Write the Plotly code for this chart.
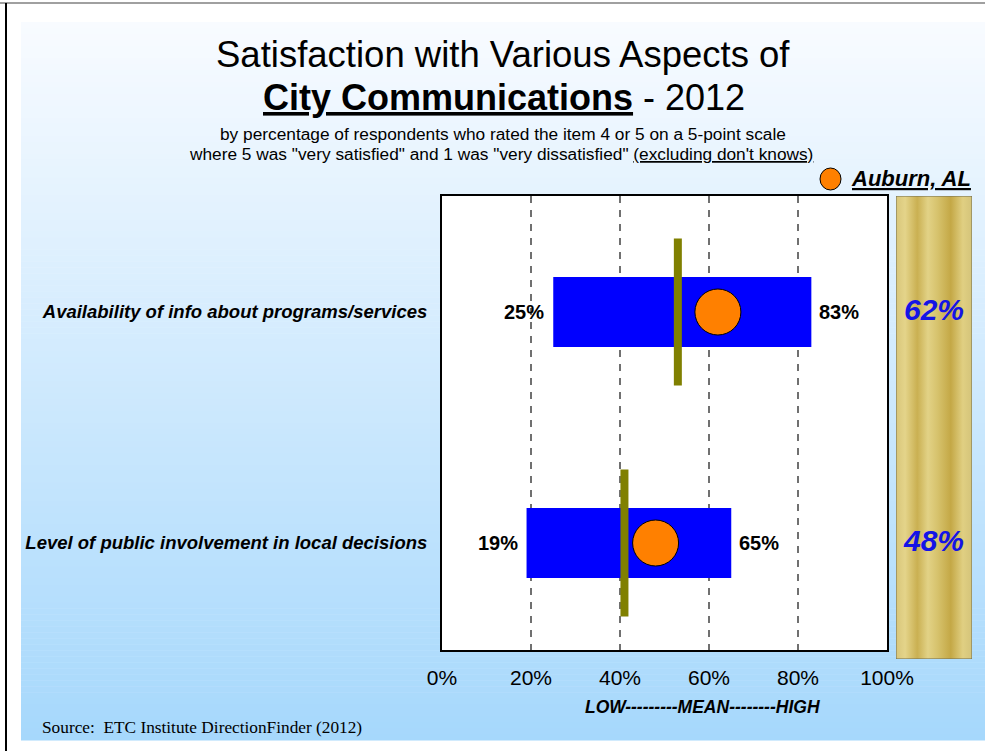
import plotly.graph_objects as go

W, H = 985, 751

# ---- data (top row first)
categories = [
    "Availability of info about programs/services",
    "Level of public involvement in local decisions",
]
low_vals = [0.25, 0.19]
high_vals = [0.83, 0.65]
mean_vals = [0.53, 0.41]
auburn_vals = [0.62, 0.48]
x_ticks = [0, 0.2, 0.4, 0.6, 0.8, 1.0]

ypos = [1, 0]  # row positions on the y axis


def px_x(p):
    return p / W


def px_y(p):
    return 1 - p / H


# main plot area in pixels
PL, PR, PT, PB = 442, 887, 196, 650
ROW_TOP, ROW_BOT = 312, 543
unit = ROW_BOT - ROW_TOP  # pixels per y unit
y_hi = 1 + (ROW_TOP - PT) / unit
y_lo = 0 - (PB - ROW_BOT) / unit
GOLD_B = 659
y_lo2 = y_lo - (GOLD_B - PB) / unit

FONT = "Liberation Sans, Arial, sans-serif"

fig = go.Figure()

# ---- range bars (low to high)
fig.add_trace(go.Bar(
    y=ypos,
    x=[h - l for l, h in zip(low_vals, high_vals)],
    base=low_vals,
    orientation="h",
    width=70 / unit,
    marker=dict(color="#0000ff", line=dict(width=0)),
    hoverinfo="skip",
))

# ---- mean lines
mx, my = [], []
for m, y in zip(mean_vals, ypos):
    mx += [m, m, None]
    my += [y - 0.318, y + 0.318, None]
fig.add_trace(go.Scatter(
    x=mx, y=my, mode="lines",
    line=dict(color="#808000", width=8),
    hoverinfo="skip",
))

# ---- Auburn markers
fig.add_trace(go.Scatter(
    x=auburn_vals, y=ypos, mode="markers",
    marker=dict(size=46, color="#ff8000", line=dict(color="black", width=1)),
    hoverinfo="skip",
))

# ---- gold panel
fig.add_trace(go.Scatter(
    x=[0, 1, 1, 0, 0], y=[y_lo2, y_lo2, y_hi, y_hi, y_lo2],
    xaxis="x2", yaxis="y2", mode="lines", fill="toself",
    line=dict(color="#6e6a50", width=1),
    fillgradient=dict(type="horizontal", colorscale=[
        [0.0, "#d8c67a"], [0.12, "#e4d48a"], [0.28, "#cab052"],
        [0.42, "#e2d286"], [0.55, "#d6c26c"], [0.72, "#c4a846"],
        [0.88, "#e0cf82"], [1.0, "#d4c47a"],
    ]),
    hoverinfo="skip",
))
fig.add_trace(go.Scatter(
    x=[0.5] * len(auburn_vals), y=ypos,
    xaxis="x2", yaxis="y2", mode="text",
    text=["<b><i>%d%%</i></b>" % round(v * 100) for v in auburn_vals],
    textfont=dict(family=FONT, size=30, color="#1414e6"),
    hoverinfo="skip",
))

# ---- background gradient, white plot area, frame lines, key symbol
shapes = []
n = 120
top_c, bot_c = (248, 251, 255), (166, 216, 252)
b_top, b_bot = 22, 740
for i in range(n):
    t = i / (n - 1)
    c = tuple(round(a + (b - a) * t) for a, b in zip(top_c, bot_c))
    y0 = b_top + (b_bot - b_top) * i / n
    y1 = b_top + (b_bot - b_top) * (i + 1) / n
    shapes.append(dict(
        type="rect", xref="paper", yref="paper", layer="below",
        x0=px_x(21), x1=1, y0=px_y(y1 + 0.5), y1=px_y(y0),
        fillcolor="rgb(%d,%d,%d)" % c, line=dict(width=0),
    ))
shapes.append(dict(
    type="rect", xref="x domain", yref="y domain", layer="below",
    x0=0, x1=1, y0=0, y1=1, fillcolor="white", line=dict(width=0),
))
shapes.append(dict(
    type="line", xref="paper", yref="paper", x0=0, x1=1,
    y0=px_y(3), y1=px_y(3), line=dict(color="#a0a0a0", width=2),
))
shapes.append(dict(
    type="line", xref="paper", yref="paper", x0=px_x(6), x1=px_x(6),
    y0=px_y(3), y1=0, line=dict(color="black", width=2),
))
# key circle for "Auburn, AL"
shapes.append(dict(
    type="circle", xref="paper", yref="paper",
    x0=px_x(820), x1=px_x(841), y0=px_y(190), y1=px_y(168),
    fillcolor="#ff8000", line=dict(color="black", width=1),
))

annotations = [
    dict(text="Satisfaction with Various Aspects of", x=px_x(503), y=px_y(55),
         font=dict(size=36.5)),
    dict(text="<b><u>City Communications</u></b> - 2012", x=px_x(504), y=px_y(97),
         font=dict(size=36)),
    dict(text="by percentage of respondents who rated the item 4 or 5 on a 5-point scale",
         x=px_x(503), y=px_y(134), font=dict(size=17.3)),
    dict(text="where 5 was \"very satisfied\" and 1 was \"very dissatisfied\" "
              "<u>(excluding don't knows)</u>",
         x=px_x(501), y=px_y(154), font=dict(size=17.3)),
    dict(text="<b><i><u>Auburn, AL</u></i></b>", x=px_x(973), y=px_y(178),
         xanchor="right", font=dict(size=22)),
    dict(text="<b><i>LOW---------MEAN--------HIGH</i></b>", x=px_x(702), y=px_y(707),
         font=dict(size=17.5)),
    dict(text="Source:  ETC Institute DirectionFinder (2012)", x=px_x(40), y=px_y(727),
         xanchor="left",
         font=dict(size=17.3, family="Liberation Serif, Times New Roman, serif")),
]
for a in annotations:
    a.setdefault("xanchor", "center")
    a.update(xref="paper", yref="paper", yanchor="middle", showarrow=False)
    a["font"].setdefault("family", FONT)
    a["font"].setdefault("color", "black")

# low / high value labels next to the bar ends
for lo, hi, y in zip(low_vals, high_vals, ypos):
    annotations.append(dict(
        x=lo, y=y, xref="x", yref="y", xanchor="right", xshift=-7,
        text="<b>%d%%</b>" % round(lo * 100), showarrow=False,
        font=dict(family=FONT, size=20, color="black"),
    ))
    annotations.append(dict(
        x=hi, y=y, xref="x", yref="y", xanchor="left", xshift=6,
        text="<b>%d%%</b>" % round(hi * 100), showarrow=False,
        font=dict(family=FONT, size=20, color="black"),
    ))

fig.update_layout(
    width=W, height=H,
    margin=dict(l=0, r=0, t=0, b=0, autoexpand=False),
    paper_bgcolor="white",
    plot_bgcolor="rgba(0,0,0,0)",
    font=dict(family=FONT, color="black"),
    barmode="overlay",
    shapes=shapes,
    annotations=annotations,
    showlegend=False,
    xaxis=dict(
        domain=[px_x(PL), px_x(PR)], range=[0, 1],
        tickvals=x_ticks, tickformat=".0%",
        tickfont=dict(size=21, family=FONT),
        ticks="", ticklabelstandoff=8, automargin=False,
        showgrid=True, gridcolor="#707070", gridwidth=1.5, griddash="7px,7px",
        zeroline=False, showline=True, linecolor="black", linewidth=2, mirror=True,
        fixedrange=True,
    ),
    yaxis=dict(
        domain=[px_y(PB), px_y(PT)], range=[y_lo, y_hi],
        tickvals=ypos, ticktext=["<b><i>%s</i></b>" % c for c in categories],
        tickfont=dict(size=18.5, family=FONT),
        ticks="", ticklabelstandoff=9, automargin=False,
        showgrid=False, zeroline=False,
        showline=True, linecolor="black", linewidth=2, mirror=True,
        fixedrange=True,
    ),
    xaxis2=dict(
        domain=[px_x(896), px_x(972)], range=[0, 1], anchor="y2",
        visible=False, fixedrange=True,
    ),
    yaxis2=dict(
        domain=[px_y(GOLD_B), px_y(PT)], range=[y_lo2, y_hi], anchor="x2",
        visible=False, fixedrange=True,
    ),
)

fig.write_html(
    "out.html",
    config={"responsive": False, "displayModeBar": False},
    post_script="document.body.style.margin='0';"
                "document.body.style.overflow='hidden';",
)
